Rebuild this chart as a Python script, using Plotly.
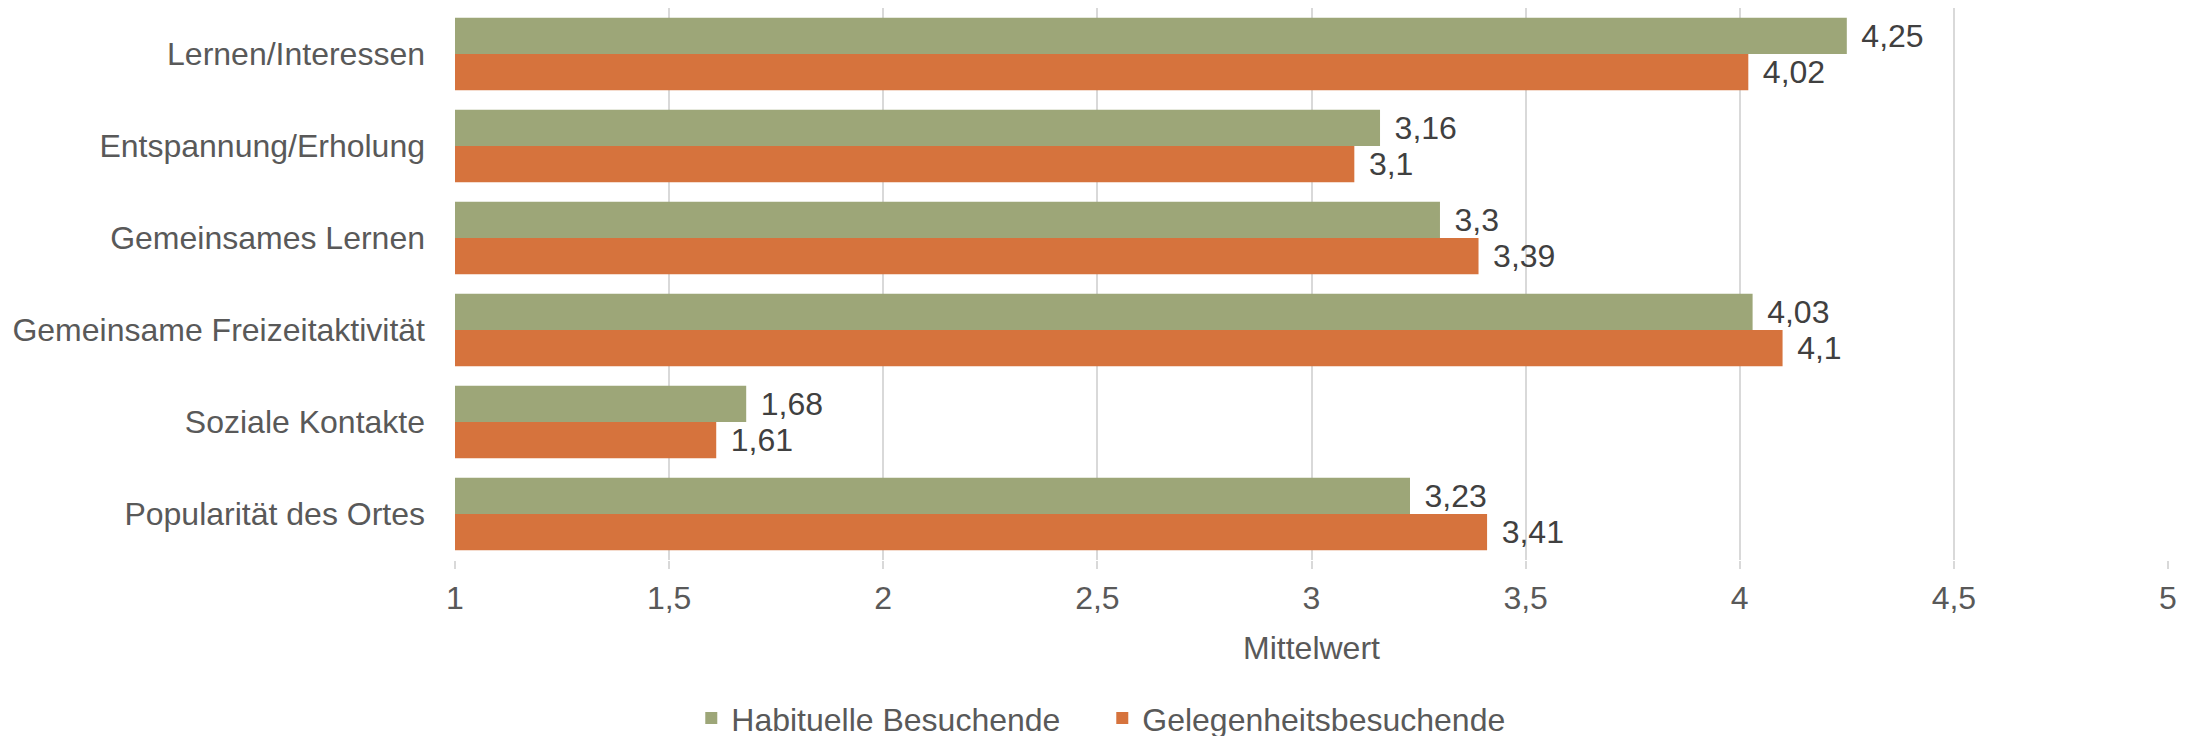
import plotly.graph_objects as go

categories = ["Lernen/Interessen", "Entspannung/Erholung", "Gemeinsames Lernen",
              "Gemeinsame Freizeitaktivität", "Soziale Kontakte", "Popularität des Ortes"]
habituell = [4.25, 3.16, 3.3, 4.03, 1.68, 3.23]
gelegenheit = [4.02, 3.1, 3.39, 4.1, 1.61, 3.41]
series_names = ["Habituelle Besuchende", "Gelegenheitsbesuchende"]
x_ticks = [1, 1.5, 2, 2.5, 3, 3.5, 4, 4.5, 5]

FONT = "Liberation Sans, Arial, sans-serif"
FS = 32


def fmt(v):
    # leading spaces push the label away from the bar end
    return "\u00a0\u200a" + str(v).replace(".", ",")


fig = go.Figure()
for name, vals, col in [(series_names[0], habituell, "#9DA678"),
                        (series_names[1], gelegenheit, "#D6733D")]:
    fig.add_trace(go.Bar(
        y=categories, x=vals, name=name, orientation="h",
        marker=dict(color=col, line=dict(width=0)),
        text=[fmt(v) for v in vals], textposition="outside",
        textfont=dict(size=FS, color="#404040", family=FONT),
        cliponaxis=False,
    ))

# the page body has an 8px margin, so positions are set 8px up/left
fig.update_layout(
    width=2190, height=736,
    barmode="group", bargap=0.21, bargroupgap=0,
    separators=",.",
    paper_bgcolor="white", plot_bgcolor="white",
    font=dict(family=FONT, size=FS, color="#595959"),
    margin=dict(l=447, r=30, t=0, b=184),
    xaxis=dict(
        range=[1, 5], tickvals=x_ticks, tickformat=",.1~f",
        showgrid=True, gridcolor="#D9D9D9", gridwidth=2,
        zeroline=False, showline=False,
        ticks="outside", ticklen=8, tickcolor="#D9D9D9", tickwidth=2,
        ticklabelstandoff=2,
        tickfont=dict(size=FS, color="#595959"),
        title=dict(text="Mittelwert", font=dict(size=FS, color="#595959"), standoff=21),
    ),
    yaxis=dict(
        autorange="reversed", showgrid=False, zeroline=False, showline=False,
        ticks="", ticklabelstandoff=29,
        tickfont=dict(size=FS, color="#595959"),
    ),
    legend=dict(
        orientation="h", xref="container", yref="container",
        x=0.312, xanchor="left", y=0.035, yanchor="middle",
        font=dict(size=FS, color="#595959"), itemwidth=30,
        entrywidth=366, traceorder="normal",
    ),
)

fig.write_html("out.html")
